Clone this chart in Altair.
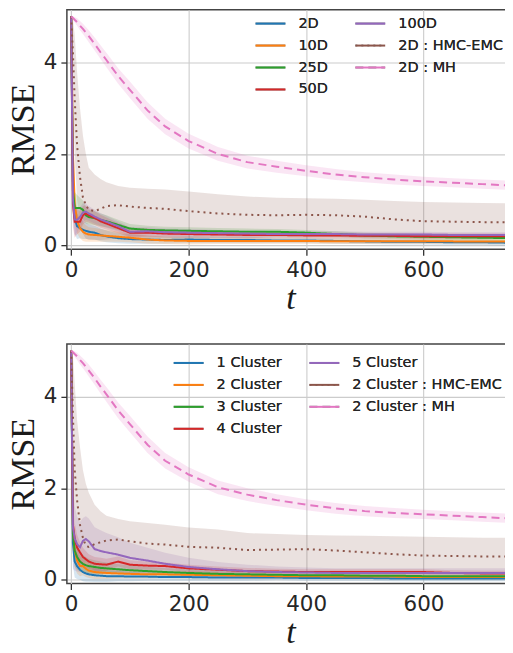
import altair as alt
import pandas as pd

# ---------------- data ----------------
T = [0, 3, 6, 10, 15, 20, 25, 30, 40, 50, 60, 80, 100, 130, 160, 200,
     250, 300, 350, 400, 450, 500, 550, 600, 650, 700, 750]

# top panel
TOP_NAMES = ["2D", "10D", "25D", "50D", "100D", "2D : HMC-EMC", "2D : MH"]
TOP_2D = [5.0, 1.4, 0.6, 0.42, 0.38, 0.34, 0.32, 0.3, 0.28, 0.23, 0.2, 0.16, 0.14, 0.13, 0.12, 0.13,
          0.12, 0.12, 0.11, 0.11, 0.1, 0.09, 0.08, 0.08, 0.07, 0.07, 0.06]
TOP_10D = [5.0, 2.0, 0.9, 0.55, 0.38, 0.3, 0.26, 0.24, 0.23, 0.22, 0.21, 0.19, 0.17, 0.13, 0.11, 0.1,
           0.1, 0.1, 0.1, 0.1, 0.09, 0.09, 0.09, 0.09, 0.09, 0.085, 0.085]
TOP_25D = [5.0, 1.2, 0.82, 0.82, 0.82, 0.78, 0.66, 0.62, 0.6, 0.56, 0.53, 0.45, 0.37, 0.34, 0.33, 0.32,
           0.31, 0.3, 0.3, 0.28, 0.25, 0.22, 0.2, 0.19, 0.18, 0.17, 0.16]
TOP_50D = [5.0, 0.9, 0.52, 0.52, 0.52, 0.66, 0.7, 0.66, 0.6, 0.53, 0.48, 0.38, 0.28, 0.28, 0.26, 0.25,
           0.24, 0.23, 0.23, 0.22, 0.22, 0.21, 0.21, 0.2, 0.2, 0.2, 0.2]
TOP_100D = [5.0, 1.0, 0.57, 0.56, 0.62, 0.72, 0.74, 0.7, 0.63, 0.57, 0.52, 0.42, 0.3, 0.31, 0.29, 0.28,
            0.27, 0.26, 0.25, 0.25, 0.25, 0.24, 0.24, 0.24, 0.23, 0.23, 0.23]
TOP_HMC = [5.0, 4.2, 3.2, 2.2, 1.5, 1.05, 0.88, 0.78, 0.75, 0.8, 0.86, 0.88, 0.85, 0.82, 0.8, 0.75,
           0.7, 0.67, 0.66, 0.67, 0.66, 0.63, 0.57, 0.53, 0.52, 0.51, 0.51]
TOP_HMC_HI = [5.0, 4.95, 4.6, 3.8, 3.0, 2.4, 2.0, 1.7, 1.55, 1.45, 1.38, 1.3, 1.26, 1.24, 1.22, 1.18,
              1.12, 1.07, 1.04, 1.03, 1.02, 1.0, 0.97, 0.95, 0.94, 0.93, 0.92]
TOP_HMC_LO = [5.0, 3.4, 2.0, 1.0, 0.5, 0.25, 0.15, 0.12, 0.12, 0.12, 0.13, 0.15, 0.15, 0.15, 0.15, 0.15,
              0.15, 0.15, 0.15, 0.15, 0.15, 0.15, 0.15, 0.15, 0.15, 0.15, 0.15]
TOP_MH = [5.0, 4.97, 4.93, 4.88, 4.8, 4.73, 4.65, 4.57, 4.4, 4.22, 4.05, 3.7, 3.4, 2.95, 2.6, 2.28,
          2.0, 1.82, 1.72, 1.63, 1.55, 1.49, 1.44, 1.4, 1.37, 1.34, 1.31]
TOP_MH_BAND = [0.02, 0.04, 0.06, 0.08, 0.1, 0.11, 0.12, 0.13, 0.14, 0.15, 0.16, 0.17, 0.18, 0.18, 0.17, 0.16,
               0.15, 0.14, 0.13, 0.12, 0.12, 0.11, 0.11, 0.1, 0.1, 0.1, 0.1]

# bottom panel
BOT_NAMES = ["1 Cluster", "2 Cluster", "3 Cluster", "4 Cluster", "5 Cluster",
             "2 Cluster : HMC-EMC", "2 Cluster : MH"]
BOT_1C = [5.0, 0.8, 0.4, 0.3, 0.22, 0.17, 0.14, 0.12, 0.1, 0.09, 0.08, 0.08, 0.07, 0.07, 0.06, 0.06,
          0.05, 0.05, 0.05, 0.04, 0.04, 0.04, 0.03, 0.03, 0.03, 0.03, 0.03]
BOT_2C = [5.0, 1.1, 0.64, 0.42, 0.3, 0.3, 0.24, 0.2, 0.17, 0.16, 0.15, 0.14, 0.13, 0.12, 0.12, 0.11,
          0.1, 0.09, 0.08, 0.08, 0.07, 0.07, 0.07, 0.06, 0.06, 0.06, 0.06]
BOT_3C = [5.0, 1.0, 0.64, 0.5, 0.4, 0.35, 0.32, 0.3, 0.28, 0.26, 0.25, 0.23, 0.21, 0.19, 0.17, 0.15,
          0.13, 0.12, 0.11, 0.1, 0.1, 0.09, 0.09, 0.08, 0.08, 0.08, 0.08]
BOT_4C = [5.0, 1.2, 0.9, 0.71, 0.6, 0.5, 0.45, 0.4, 0.35, 0.34, 0.33, 0.4, 0.33, 0.31, 0.3, 0.25,
          0.22, 0.19, 0.18, 0.17, 0.17, 0.17, 0.17, 0.17, 0.15, 0.14, 0.14]
BOT_5C = [5.0, 1.14, 0.9, 0.78, 0.71, 0.85, 0.89, 0.84, 0.67, 0.63, 0.6, 0.55, 0.48, 0.42, 0.35, 0.28,
          0.23, 0.19, 0.17, 0.16, 0.15, 0.15, 0.15, 0.15, 0.15, 0.15, 0.15]
BOT_HMC = [5.0, 3.6, 2.4, 1.75, 1.2, 0.92, 0.74, 0.72, 0.78, 0.82, 0.86, 0.88, 0.84, 0.79, 0.77, 0.72,
           0.7, 0.65, 0.66, 0.67, 0.64, 0.6, 0.56, 0.53, 0.52, 0.51, 0.51]
BOT_HMC_HI = [5.0, 4.9, 4.3, 3.5, 2.9, 2.4, 2.1, 1.9, 1.64, 1.5, 1.4, 1.33, 1.28, 1.24, 1.2, 1.14,
              1.1, 1.02, 1.0, 0.98, 0.97, 0.96, 0.95, 0.94, 0.93, 0.92, 0.92]
BOT_HMC_LO = [5.0, 2.3, 0.9, 0.5, 0.3, 0.2, 0.15, 0.12, 0.12, 0.12, 0.13, 0.15, 0.15, 0.15, 0.15, 0.15,
              0.15, 0.15, 0.15, 0.15, 0.15, 0.15, 0.15, 0.15, 0.15, 0.15, 0.15]
BOT_MH = [5.0, 4.97, 4.93, 4.88, 4.8, 4.73, 4.65, 4.57, 4.4, 4.22, 4.05, 3.7, 3.4, 2.95, 2.6, 2.3,
          2.02, 1.86, 1.74, 1.64, 1.56, 1.5, 1.46, 1.43, 1.4, 1.37, 1.34]
BOT_MH_BAND = TOP_MH_BAND

# band half-widths of the solid curves
BAND_SMALL = [0.0, 0.5, 0.35, 0.28, 0.22, 0.2, 0.18, 0.16, 0.15, 0.14, 0.13, 0.11, 0.1, 0.09, 0.08, 0.08,
              0.07, 0.07, 0.06, 0.06, 0.06, 0.06, 0.06, 0.06, 0.06, 0.06, 0.06]
BAND_WIDE = [0.0, 0.9, 0.7, 0.6, 0.55, 0.5, 0.5, 0.5, 0.48, 0.45, 0.42, 0.38, 0.33, 0.28, 0.24, 0.2,
             0.16, 0.14, 0.12, 0.11, 0.1, 0.1, 0.1, 0.1, 0.1, 0.1, 0.1]

COLORS = ["#1f77b4", "#ff7f0e", "#2ca02c", "#d62728", "#9467bd", "#8c564b", "#e377c2"]
DASHES = [[1, 0], [1, 0], [1, 0], [1, 0], [1, 0], [2, 4], [8, 5]]

X_DOMAIN = [-7.3, 754]
Y_DOMAIN = [-0.08, 5.15]
W, H = 448, 240

# legend line glyph: a horizontal segment 4.6 units long in the unit symbol box
LEGEND_LINE = "M-2.3,0H2.3"


def frame(names, means, his, los):
    rows = []
    for k, name in enumerate(names):
        for i, t in enumerate(T):
            rows.append({"t": t, "series": name, "order": k,
                         "mean": means[k][i], "lo": los[k][i], "hi": his[k][i]})
    return pd.DataFrame(rows)


def sym(m, b):
    return [a + c for a, c in zip(m, b)], [a - c for a, c in zip(m, b)]


def panel(names, means, his, los, legend_x, legend_y, col_pad):
    df = frame(names, means, his, los)
    xs = alt.Scale(domain=X_DOMAIN, nice=False, zero=False)
    ys = alt.Scale(domain=Y_DOMAIN, nice=False, zero=False)
    xax = alt.Axis(values=[0, 200, 400, 600], title="t", titleFont="Liberation Serif",
                   titleFontStyle="italic", titleFontWeight="normal", titleFontSize=34,
                   titleColor="#1a1a1a", titlePadding=1)
    yax = alt.Axis(values=[0, 2, 4], title="RMSE", titleFont="Liberation Serif",
                   titleFontWeight="normal", titleFontSize=34, titleColor="#1a1a1a",
                   titlePadding=2.3)
    leg = alt.Legend(title=None, orient="none", legendX=legend_x, legendY=legend_y,
                     columns=2, symbolType=LEGEND_LINE, symbolSize=169, symbolStrokeWidth=2,
                     symbolFillColor="transparent",
                     labelFont="DejaVu Sans", labelFontSize=14.5, labelFontWeight="normal",
                     labelColor="#262626", labelOffset=20.5, columnPadding=col_pad, rowPadding=7,
                     padding=0)
    base = alt.Chart(df)
    bands = base.mark_area(fillOpacity=0.18, clip=True, interpolate="linear").encode(
        x=alt.X("t:Q", scale=xs, axis=xax),
        y=alt.Y("lo:Q", scale=ys, axis=yax),
        y2="hi:Q",
        color=alt.Color("series:N", scale=alt.Scale(domain=names, range=COLORS), legend=None),
        order=alt.Order("order:Q"),
    )
    lines = base.mark_line(strokeWidth=2, clip=True, strokeCap="butt").encode(
        x=alt.X("t:Q", scale=xs, axis=xax),
        y=alt.Y("mean:Q", scale=ys, axis=yax),
        color=alt.Color("series:N", scale=alt.Scale(domain=names, range=COLORS), legend=leg),
        strokeDash=alt.StrokeDash("series:N", scale=alt.Scale(domain=names, range=DASHES), legend=leg),
        detail="order:Q",
    )
    return alt.layer(bands, lines).resolve_scale(color="independent").properties(width=W, height=H)


top_means = [TOP_2D, TOP_10D, TOP_25D, TOP_50D, TOP_100D, TOP_HMC, TOP_MH]
top_bands = [BAND_SMALL, BAND_SMALL, BAND_SMALL, BAND_SMALL, BAND_SMALL]
top_his = [sym(m, b)[0] for m, b in zip(top_means[:5], top_bands)] + [TOP_HMC_HI, sym(TOP_MH, TOP_MH_BAND)[0]]
top_los = [sym(m, b)[1] for m, b in zip(top_means[:5], top_bands)] + [TOP_HMC_LO, sym(TOP_MH, TOP_MH_BAND)[1]]

bot_means = [BOT_1C, BOT_2C, BOT_3C, BOT_4C, BOT_5C, BOT_HMC, BOT_MH]
bot_bands = [BAND_SMALL, BAND_SMALL, BAND_SMALL, BAND_SMALL, BAND_WIDE]
bot_his = [sym(m, b)[0] for m, b in zip(bot_means[:5], bot_bands)] + [BOT_HMC_HI, sym(BOT_MH, BOT_MH_BAND)[0]]
bot_los = [sym(m, b)[1] for m, b in zip(bot_means[:5], bot_bands)] + [BOT_HMC_LO, sym(BOT_MH, BOT_MH_BAND)[1]]

top = panel(TOP_NAMES, top_means, top_his, top_los, 196.5, 6.5, 22)
bot = panel(BOT_NAMES, bot_means, bot_his, bot_los, 114.5, 11.5, 23)

chart = alt.vconcat(top, bot, spacing=95, bounds="flush").resolve_scale(
    color="independent", strokeDash="independent", x="independent", y="independent"
).properties(
    padding={"top": 0, "left": -2, "right": -10, "bottom": -5.5}, background="white"
).configure_view(stroke="#444444", strokeWidth=1.5).configure_axis(
    grid=True, gridColor="#cccccc", gridWidth=1.1, domain=False,
    tickSize=6, tickWidth=1.3, tickColor="#333333",
    labelFont="DejaVu Sans", labelFontSize=21.5, labelColor="#262626", labelPadding=4,
)

chart.save("out.html", embed_options={"renderer": "svg", "actions": False})
